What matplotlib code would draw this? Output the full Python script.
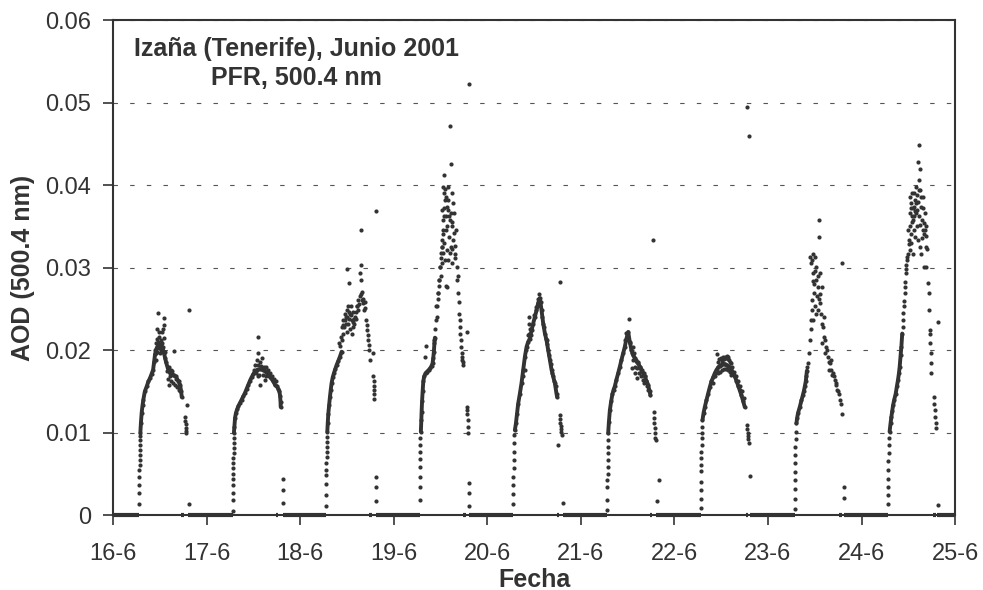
import matplotlib.pyplot as plt

plt.rcParams['font.family'] = ['Liberation Sans', 'DejaVu Sans']

# Each day: (fraction of day, AOD). "trace" = continuous dense run of readings,
# "dots" = isolated readings (morning rise, noisy peaks, evening tail, outliers).
trace_16 = [(0.292, 0.0100), (0.298, 0.0112), (0.306, 0.0124), (0.315, 0.0133), (0.324, 0.0140),
            (0.340, 0.0150), (0.360, 0.0156), (0.378, 0.0162), (0.395, 0.0166), (0.412, 0.0171),
            (0.428, 0.0176), (0.438, 0.0185), (0.449, 0.0195), (0.465, 0.0202), (0.485, 0.0206),
            (0.505, 0.0207), (0.525, 0.0204), (0.545, 0.0196), (0.565, 0.0186), (0.585, 0.0178),
            (0.610, 0.0172), (0.640, 0.0170), (0.670, 0.0168), (0.700, 0.0162), (0.716, 0.0158),
            (0.728, 0.0150), (0.734, 0.0143)]
dots_16 = [(0.278, 0.0014), (0.279, 0.0027), (0.280, 0.0037), (0.281, 0.0046), (0.282, 0.0055),
           (0.283, 0.0061), (0.284, 0.0067), (0.285, 0.0073), (0.286, 0.0079), (0.287, 0.0085),
           (0.288, 0.0091), (0.290, 0.0096),
           (0.450, 0.0200), (0.455, 0.0208), (0.460, 0.0196), (0.465, 0.0214), (0.470, 0.0204),
           (0.475, 0.0198), (0.480, 0.0210), (0.484, 0.0245), (0.490, 0.0202), (0.495, 0.0216),
           (0.500, 0.0196), (0.505, 0.0206), (0.510, 0.0212), (0.515, 0.0200), (0.520, 0.0222),
           (0.525, 0.0208), (0.530, 0.0226), (0.535, 0.0204), (0.540, 0.0215), (0.548, 0.0239),
           (0.545, 0.0230), (0.550, 0.0198), (0.555, 0.0190), (0.470, 0.0225), (0.490, 0.0222),
           (0.460, 0.0188), (0.652, 0.0199),
           (0.580, 0.0175), (0.590, 0.0165), (0.600, 0.0180), (0.610, 0.0168), (0.620, 0.0162),
           (0.630, 0.0175), (0.640, 0.0160), (0.650, 0.0170), (0.660, 0.0158), (0.670, 0.0165),
           (0.680, 0.0155), (0.690, 0.0162), (0.700, 0.0152), (0.710, 0.0158), (0.720, 0.0150),
           (0.600, 0.0158), (0.620, 0.0176),
           (0.772, 0.0119), (0.774, 0.0114), (0.776, 0.0110), (0.778, 0.0106), (0.780, 0.0102),
           (0.782, 0.0099), (0.794, 0.0133), (0.812, 0.0249), (0.812, 0.0013)]

trace_17 = [(0.292, 0.0100), (0.297, 0.0107), (0.304, 0.0118), (0.314, 0.0124), (0.326, 0.0128),
            (0.339, 0.0132), (0.357, 0.0136), (0.375, 0.0140), (0.392, 0.0144), (0.410, 0.0148),
            (0.428, 0.0153), (0.446, 0.0158), (0.464, 0.0163), (0.481, 0.0167), (0.500, 0.0171),
            (0.517, 0.0174), (0.540, 0.0176), (0.570, 0.0177), (0.600, 0.0176), (0.624, 0.0175),
            (0.645, 0.0172), (0.660, 0.0170), (0.680, 0.0167), (0.695, 0.0165), (0.713, 0.0162),
            (0.731, 0.0158), (0.750, 0.0156), (0.766, 0.0153), (0.778, 0.0150), (0.786, 0.0144),
            (0.790, 0.0137), (0.792, 0.0131)]
dots_17 = [(0.279, 0.0005), (0.280, 0.0018), (0.281, 0.0027), (0.282, 0.0037), (0.283, 0.0044),
           (0.284, 0.0050), (0.285, 0.0057), (0.286, 0.0063), (0.287, 0.0069), (0.288, 0.0075),
           (0.289, 0.0081), (0.290, 0.0087), (0.291, 0.0093),
           (0.553, 0.0216), (0.546, 0.0196), (0.535, 0.0188), (0.570, 0.0186), (0.590, 0.0190),
           (0.570, 0.0158), (0.624, 0.0164), (0.640, 0.0168), (0.520, 0.0182), (0.550, 0.0182),
           (0.580, 0.0181), (0.610, 0.0180), (0.560, 0.0170), (0.600, 0.0170), (0.630, 0.0179),
           (0.660, 0.0176), (0.680, 0.0172), (0.700, 0.0168), (0.720, 0.0165), (0.740, 0.0162),
           (0.510, 0.0176), (0.530, 0.0172), (0.550, 0.0168),
           (0.812, 0.0044), (0.812, 0.0030), (0.812, 0.0015)]

trace_18 = [(0.290, 0.0101), (0.295, 0.0112), (0.301, 0.0123), (0.310, 0.0134), (0.318, 0.0143),
            (0.327, 0.0152), (0.336, 0.0160), (0.348, 0.0167), (0.361, 0.0172), (0.375, 0.0177),
            (0.390, 0.0182), (0.408, 0.0187), (0.425, 0.0192), (0.443, 0.0198)]
dots_18 = [(0.276, 0.0011), (0.277, 0.0024), (0.278, 0.0038), (0.279, 0.0048), (0.280, 0.0055),
           (0.281, 0.0063), (0.282, 0.0070), (0.283, 0.0077), (0.284, 0.0083), (0.285, 0.0089),
           (0.287, 0.0095),
           (0.418, 0.0208), (0.432, 0.0216), (0.443, 0.0228), (0.461, 0.0236), (0.479, 0.0244),
           (0.496, 0.0248), (0.514, 0.0253), (0.532, 0.0244), (0.550, 0.0236), (0.568, 0.0228),
           (0.489, 0.0232), (0.525, 0.0238), (0.539, 0.0253), (0.561, 0.0246), (0.585, 0.0240),
           (0.461, 0.0220), (0.504, 0.0222), (0.550, 0.0220), (0.603, 0.0253), (0.621, 0.0261),
           (0.639, 0.0265), (0.657, 0.0261), (0.674, 0.0257), (0.692, 0.0251), (0.646, 0.0285),
           (0.639, 0.0293), (0.646, 0.0303), (0.496, 0.0298), (0.518, 0.0281),
           (0.430, 0.0205), (0.450, 0.0212), (0.470, 0.0228), (0.485, 0.0240), (0.510, 0.0232),
           (0.530, 0.0226), (0.580, 0.0232), (0.600, 0.0238), (0.620, 0.0248), (0.630, 0.0256),
           (0.660, 0.0270), (0.670, 0.0262), (0.680, 0.0248), (0.690, 0.0258),
           (0.455, 0.0230), (0.475, 0.0236), (0.500, 0.0240), (0.520, 0.0246), (0.545, 0.0242),
           (0.560, 0.0234), (0.575, 0.0238), (0.595, 0.0246), (0.612, 0.0254), (0.650, 0.0268),
           (0.703, 0.0236), (0.710, 0.0230), (0.717, 0.0224), (0.722, 0.0218), (0.728, 0.0212),
           (0.733, 0.0206), (0.739, 0.0200), (0.746, 0.0188), (0.774, 0.0197),
           (0.781, 0.0168), (0.784, 0.0162), (0.786, 0.0157), (0.788, 0.0152), (0.790, 0.0147),
           (0.792, 0.0141), (0.646, 0.0345), (0.810, 0.0368), (0.810, 0.0046), (0.810, 0.0034),
           (0.810, 0.0017)]

trace_19 = [(0.290, 0.0101), (0.295, 0.0115), (0.298, 0.0125), (0.303, 0.0138), (0.309, 0.0150),
            (0.316, 0.0162), (0.325, 0.0168), (0.340, 0.0172), (0.358, 0.0174), (0.375, 0.0176),
            (0.390, 0.0178), (0.405, 0.0181), (0.415, 0.0184), (0.422, 0.0190), (0.429, 0.0198),
            (0.435, 0.0208), (0.440, 0.0215)]
dots_19 = [(0.278, 0.0018), (0.279, 0.0034), (0.280, 0.0046), (0.281, 0.0058), (0.282, 0.0068),
           (0.283, 0.0077), (0.284, 0.0085), (0.286, 0.0093),
           (0.330, 0.0192), (0.345, 0.0205), (0.430, 0.0212),
           (0.446, 0.0225), (0.452, 0.0236), (0.458, 0.0240), (0.465, 0.0253), (0.470, 0.0262),
           (0.476, 0.0269), (0.482, 0.0278), (0.487, 0.0285), (0.493, 0.0301), (0.500, 0.0312),
           (0.505, 0.0318), (0.511, 0.0325), (0.520, 0.0334), (0.529, 0.0345), (0.536, 0.0362),
           (0.530, 0.0398), (0.536, 0.0390), (0.547, 0.0382), (0.565, 0.0374), (0.582, 0.0370),
           (0.557, 0.0362), (0.600, 0.0358), (0.572, 0.0350), (0.618, 0.0350), (0.522, 0.0341),
           (0.593, 0.0337), (0.636, 0.0333), (0.511, 0.0325), (0.565, 0.0321), (0.654, 0.0317),
           (0.547, 0.0309), (0.618, 0.0305), (0.494, 0.0301), (0.672, 0.0301), (0.486, 0.0285),
           (0.565, 0.0277), (0.679, 0.0285), (0.475, 0.0269), (0.690, 0.0269), (0.457, 0.0253),
           (0.700, 0.0244), (0.536, 0.0412), (0.607, 0.0425), (0.600, 0.0472), (0.582, 0.0398),
           (0.618, 0.0390), (0.629, 0.0378), (0.643, 0.0366), (0.511, 0.0370), (0.522, 0.0358),
           (0.665, 0.0345), (0.607, 0.0325), (0.582, 0.0309), (0.557, 0.0278),
           (0.540, 0.0372), (0.552, 0.0395), (0.560, 0.0386), (0.575, 0.0382), (0.590, 0.0362),
           (0.610, 0.0366), (0.625, 0.0355), (0.640, 0.0342), (0.650, 0.0326), (0.660, 0.0312),
           (0.527, 0.0318), (0.540, 0.0330), (0.555, 0.0345), (0.598, 0.0318), (0.620, 0.0322),
           (0.685, 0.0290), (0.695, 0.0258), (0.503, 0.0290), (0.515, 0.0305),
           (0.707, 0.0228), (0.718, 0.0212), (0.725, 0.0196), (0.743, 0.0182), (0.720, 0.0204),
           (0.732, 0.0188), (0.710, 0.0236), (0.713, 0.0220), (0.735, 0.0192), (0.740, 0.0185),
           (0.778, 0.0222),
           (0.778, 0.0131), (0.781, 0.0127), (0.786, 0.0123), (0.789, 0.0115), (0.793, 0.0107),
           (0.796, 0.0099), (0.807, 0.0523), (0.807, 0.0039), (0.807, 0.0027), (0.807, 0.0011)]

trace_20 = [(0.295, 0.0103), (0.306, 0.0111), (0.318, 0.0123), (0.330, 0.0135), (0.348, 0.0147),
            (0.366, 0.0160), (0.384, 0.0176), (0.402, 0.0192), (0.420, 0.0204), (0.437, 0.0210),
            (0.455, 0.0214), (0.473, 0.0224), (0.490, 0.0232), (0.508, 0.0240), (0.526, 0.0248),
            (0.544, 0.0257), (0.562, 0.0263), (0.580, 0.0248), (0.598, 0.0232), (0.616, 0.0220),
            (0.633, 0.0212), (0.651, 0.0200), (0.669, 0.0188), (0.687, 0.0176), (0.704, 0.0168),
            (0.722, 0.0160), (0.740, 0.0147), (0.747, 0.0143)]
dots_20 = [(0.277, 0.0014), (0.278, 0.0026), (0.279, 0.0036), (0.280, 0.0046), (0.281, 0.0057),
           (0.282, 0.0067), (0.284, 0.0077), (0.286, 0.0087), (0.289, 0.0097),
           (0.444, 0.0240), (0.447, 0.0232), (0.448, 0.0220), (0.402, 0.0176), (0.384, 0.0168),
           (0.430, 0.0218), (0.460, 0.0226), (0.500, 0.0243), (0.520, 0.0252), (0.540, 0.0262),
           (0.555, 0.0268), (0.570, 0.0258), (0.590, 0.0240), (0.605, 0.0228), (0.625, 0.0214),
           (0.640, 0.0207), (0.660, 0.0194), (0.680, 0.0183), (0.695, 0.0172), (0.710, 0.0163),
           (0.730, 0.0156), (0.415, 0.0200), (0.470, 0.0218),
           (0.776, 0.0121), (0.779, 0.0116), (0.782, 0.0112), (0.785, 0.0108), (0.788, 0.0104),
           (0.791, 0.0101), (0.797, 0.0097), (0.751, 0.0085), (0.779, 0.0283), (0.811, 0.0015)]

trace_21 = [(0.292, 0.0099), (0.300, 0.0113), (0.310, 0.0127), (0.324, 0.0138), (0.338, 0.0147),
            (0.350, 0.0152), (0.363, 0.0156), (0.380, 0.0164), (0.399, 0.0172), (0.417, 0.0180),
            (0.434, 0.0188), (0.452, 0.0196), (0.470, 0.0204), (0.488, 0.0214), (0.506, 0.0222),
            (0.523, 0.0210), (0.541, 0.0200), (0.559, 0.0194), (0.577, 0.0190), (0.595, 0.0186),
            (0.612, 0.0184), (0.630, 0.0180), (0.648, 0.0176), (0.666, 0.0172), (0.684, 0.0168),
            (0.700, 0.0163), (0.719, 0.0158), (0.735, 0.0150), (0.744, 0.0145)]
dots_21 = [(0.281, 0.0006), (0.282, 0.0018), (0.283, 0.0034), (0.284, 0.0042), (0.285, 0.0050),
           (0.286, 0.0058), (0.287, 0.0067), (0.288, 0.0075), (0.289, 0.0083), (0.290, 0.0091),
           (0.530, 0.0208), (0.545, 0.0196), (0.555, 0.0204), (0.560, 0.0188), (0.570, 0.0196),
           (0.580, 0.0180), (0.590, 0.0188), (0.600, 0.0178), (0.610, 0.0186), (0.620, 0.0172),
           (0.630, 0.0180), (0.640, 0.0168), (0.650, 0.0176), (0.660, 0.0164), (0.670, 0.0172),
           (0.680, 0.0160), (0.690, 0.0168), (0.700, 0.0162), (0.710, 0.0156), (0.720, 0.0152),
           (0.545, 0.0178), (0.575, 0.0172), (0.600, 0.0166), (0.516, 0.0238), (0.480, 0.0221),
           (0.470, 0.0212),
           (0.781, 0.0125), (0.784, 0.0118), (0.787, 0.0111), (0.790, 0.0105), (0.793, 0.0099),
           (0.797, 0.0094), (0.800, 0.0091), (0.772, 0.0334), (0.837, 0.0042), (0.810, 0.0017)]

trace_22 = [(0.300, 0.0115), (0.312, 0.0124), (0.325, 0.0131), (0.342, 0.0139), (0.360, 0.0147),
            (0.378, 0.0155), (0.396, 0.0162), (0.414, 0.0167), (0.432, 0.0172), (0.450, 0.0176),
            (0.468, 0.0179), (0.486, 0.0181), (0.503, 0.0182), (0.520, 0.0183), (0.538, 0.0183),
            (0.556, 0.0182), (0.574, 0.0181), (0.592, 0.0179), (0.610, 0.0176), (0.628, 0.0172),
            (0.645, 0.0168), (0.663, 0.0163), (0.681, 0.0157), (0.699, 0.0151), (0.717, 0.0145),
            (0.735, 0.0138), (0.752, 0.0131)]
dots_22 = [(0.282, 0.0008), (0.283, 0.0019), (0.284, 0.0030), (0.285, 0.0040), (0.286, 0.0053),
           (0.287, 0.0061), (0.288, 0.0069), (0.289, 0.0077), (0.290, 0.0085), (0.291, 0.0093),
           (0.293, 0.0100), (0.296, 0.0107),
           (0.450, 0.0195), (0.470, 0.0186), (0.480, 0.0189), (0.500, 0.0190), (0.510, 0.0187),
           (0.520, 0.0191), (0.530, 0.0189), (0.540, 0.0191), (0.550, 0.0190), (0.560, 0.0193),
           (0.570, 0.0189), (0.575, 0.0191), (0.585, 0.0188), (0.590, 0.0186), (0.600, 0.0184),
           (0.470, 0.0172), (0.490, 0.0174), (0.510, 0.0176), (0.530, 0.0177), (0.550, 0.0177),
           (0.570, 0.0176), (0.590, 0.0173), (0.610, 0.0170), (0.430, 0.0168), (0.415, 0.0160),
           (0.620, 0.0180), (0.640, 0.0174), (0.660, 0.0168), (0.680, 0.0162), (0.700, 0.0156),
           (0.720, 0.0150), (0.740, 0.0142),
           (0.778, 0.0109), (0.781, 0.0104), (0.784, 0.0100), (0.787, 0.0096), (0.790, 0.0092),
           (0.795, 0.0087), (0.813, 0.0047), (0.781, 0.0495), (0.798, 0.0460)]

trace_23 = [(0.304, 0.0111), (0.312, 0.0118), (0.322, 0.0124), (0.340, 0.0131), (0.358, 0.0139),
            (0.372, 0.0145), (0.383, 0.0150), (0.394, 0.0156), (0.404, 0.0162), (0.410, 0.0168),
            (0.416, 0.0175)]
dots_23 = [(0.286, 0.0007), (0.287, 0.0020), (0.288, 0.0032), (0.289, 0.0042), (0.290, 0.0052),
           (0.291, 0.0063), (0.292, 0.0073), (0.294, 0.0083), (0.296, 0.0092), (0.299, 0.0101),
           (0.465, 0.0305), (0.482, 0.0317), (0.500, 0.0313), (0.518, 0.0301), (0.482, 0.0293),
           (0.511, 0.0285), (0.536, 0.0277), (0.489, 0.0269), (0.525, 0.0265), (0.475, 0.0261),
           (0.553, 0.0257), (0.500, 0.0253), (0.536, 0.0248), (0.571, 0.0244), (0.482, 0.0236),
           (0.546, 0.0337), (0.546, 0.0358), (0.589, 0.0228), (0.600, 0.0216), (0.582, 0.0208),
           (0.618, 0.0204), (0.607, 0.0196), (0.642, 0.0192), (0.660, 0.0184), (0.653, 0.0176),
           (0.678, 0.0176), (0.696, 0.0172), (0.713, 0.0164), (0.731, 0.0160), (0.738, 0.0152),
           (0.760, 0.0147), (0.774, 0.0139), (0.785, 0.0135), (0.796, 0.0123), (0.447, 0.0212),
           (0.439, 0.0196), (0.429, 0.0184), (0.422, 0.0180), (0.464, 0.0236), (0.560, 0.0293),
           (0.518, 0.0244), (0.582, 0.0277), (0.454, 0.0313), (0.468, 0.0309), (0.455, 0.0225),
           (0.470, 0.0248), (0.494, 0.0280), (0.530, 0.0290), (0.560, 0.0268), (0.595, 0.0240),
           (0.630, 0.0200), (0.670, 0.0188), (0.705, 0.0168),
           (0.477, 0.0284), (0.505, 0.0296), (0.545, 0.0262), (0.575, 0.0232), (0.612, 0.0212),
           (0.648, 0.0186), (0.688, 0.0170), (0.722, 0.0158), (0.750, 0.0150),
           (0.796, 0.0306), (0.810, 0.0034), (0.810, 0.0021)]

trace_24 = [(0.300, 0.0101), (0.310, 0.0111), (0.319, 0.0119), (0.328, 0.0126), (0.337, 0.0133),
            (0.350, 0.0140), (0.365, 0.0147), (0.378, 0.0156), (0.390, 0.0164), (0.400, 0.0172),
            (0.408, 0.0180), (0.418, 0.0194), (0.426, 0.0204), (0.435, 0.0220)]
dots_24 = [(0.283, 0.0014), (0.284, 0.0024), (0.285, 0.0034), (0.286, 0.0044), (0.287, 0.0055),
           (0.288, 0.0065), (0.290, 0.0075), (0.292, 0.0085), (0.295, 0.0093),
           (0.440, 0.0228), (0.444, 0.0236), (0.448, 0.0245), (0.452, 0.0253), (0.456, 0.0260),
           (0.461, 0.0269), (0.465, 0.0276), (0.468, 0.0283), (0.472, 0.0293), (0.476, 0.0298),
           (0.480, 0.0303), (0.486, 0.0309), (0.490, 0.0313),
           (0.497, 0.0317), (0.508, 0.0333), (0.515, 0.0350), (0.522, 0.0366), (0.533, 0.0378),
           (0.543, 0.0390), (0.550, 0.0358), (0.556, 0.0374), (0.568, 0.0382), (0.579, 0.0398),
           (0.586, 0.0366), (0.593, 0.0350), (0.600, 0.0428), (0.611, 0.0448), (0.622, 0.0419),
           (0.615, 0.0406), (0.629, 0.0394), (0.640, 0.0374), (0.650, 0.0358), (0.657, 0.0386),
           (0.664, 0.0341), (0.675, 0.0366), (0.686, 0.0325), (0.693, 0.0350), (0.533, 0.0341),
           (0.568, 0.0337), (0.604, 0.0333), (0.622, 0.0325), (0.550, 0.0317), (0.515, 0.0321),
           (0.640, 0.0317), (0.668, 0.0301), (0.693, 0.0301), (0.500, 0.0345), (0.520, 0.0385),
           (0.540, 0.0355), (0.560, 0.0390), (0.575, 0.0368), (0.590, 0.0388), (0.605, 0.0380),
           (0.630, 0.0352), (0.645, 0.0336), (0.660, 0.0372), (0.680, 0.0345), (0.700, 0.0322),
           (0.527, 0.0372), (0.537, 0.0362), (0.548, 0.0372), (0.562, 0.0362), (0.583, 0.0378),
           (0.597, 0.0370), (0.610, 0.0394), (0.618, 0.0362), (0.635, 0.0385), (0.652, 0.0346),
           (0.670, 0.0354), (0.688, 0.0338), (0.505, 0.0328), (0.528, 0.0330), (0.558, 0.0346),
           (0.711, 0.0281), (0.721, 0.0269), (0.721, 0.0248), (0.728, 0.0224), (0.736, 0.0208),
           (0.739, 0.0196), (0.743, 0.0184), (0.746, 0.0172), (0.736, 0.0220), (0.814, 0.0234),
           (0.771, 0.0143), (0.778, 0.0135), (0.782, 0.0127), (0.785, 0.0119), (0.792, 0.0111),
           (0.800, 0.0105), (0.818, 0.0012)]

days = [16, 17, 18, 19, 20, 21, 22, 23, 24]
traces = [trace_16, trace_17, trace_18, trace_19, trace_20, trace_21, trace_22, trace_23, trace_24]
dots = [dots_16, dots_17, dots_18, dots_19, dots_20, dots_21, dots_22, dots_23, dots_24]

# night-time readings logged as zero (start, end) in days of June
night = [(16.000, 16.280), (16.730, 16.760), (16.800, 17.280), (17.740, 17.765), (17.815, 18.278),
         (18.740, 18.770), (18.810, 19.280), (19.740, 19.775), (19.805, 20.277), (20.745, 20.770),
         (20.805, 21.281), (21.740, 21.760), (21.800, 22.282), (22.760, 22.785), (22.805, 23.286),
         (23.760, 23.790), (23.810, 24.283), (24.760, 24.800), (24.810, 25.000)]

xticks = [16, 17, 18, 19, 20, 21, 22, 23, 24, 25]
xlabels = ['16-6', '17-6', '18-6', '19-6', '20-6', '21-6', '22-6', '23-6', '24-6', '25-6']
yticks = [0, 0.01, 0.02, 0.03, 0.04, 0.05, 0.06]
ylabels = ['0', '0.01', '0.02', '0.03', '0.04', '0.05', '0.06']

ink = '#333333'

fig = plt.figure(figsize=(9.83, 5.9), dpi=100)
ax = fig.add_axes([0.115, 0.127, 0.8566, 0.839])

for d, tr, dt in zip(days, traces, dots):
    ax.plot([d + f for f, a in tr], [a for f, a in tr], color=ink, lw=2.8,
            solid_capstyle='round', marker='o', ms=3.0, mew=0, zorder=3)
    ax.plot([d + f for f, a in dt], [a for f, a in dt], ls='none', color=ink,
            marker='o', ms=3.0, mew=0, zorder=3)

ax.hlines([0] * len(night), [s for s, e in night], [e for s, e in night],
          color=ink, lw=3.0, zorder=3, clip_on=False)

ax.set_xlim(16, 25)
ax.set_ylim(0, 0.06)
ax.set_xticks(xticks)
ax.set_xticklabels(xlabels)
ax.set_yticks(yticks)
ax.set_yticklabels(ylabels)
ax.yaxis.grid(True, color='#555555', lw=0.8, ls=(0, (4, 11)))
ax.set_axisbelow(True)

for s in ax.spines.values():
    s.set_color(ink)
    s.set_linewidth(1.5)

ax.tick_params(axis='both', colors=ink, labelsize=17, length=7, width=1.2, direction='out')
ax.tick_params(axis='x', pad=13)
ax.tick_params(axis='y', pad=9)

ax.set_xlabel('Fecha', fontsize=18, fontweight='bold', color=ink, labelpad=2)
ax.set_ylabel('AOD (500.4 nm)', fontsize=18, fontweight='bold', color=ink, labelpad=7)

ax.text(0.2173, 0.913, 'Izaña (Tenerife), Junio 2001\nPFR, 500.4 nm', transform=ax.transAxes,
        ha='center', va='center', multialignment='center', fontsize=18,
        fontweight='bold', color=ink, linespacing=1.25)

fig.savefig('out.png', dpi=100)
